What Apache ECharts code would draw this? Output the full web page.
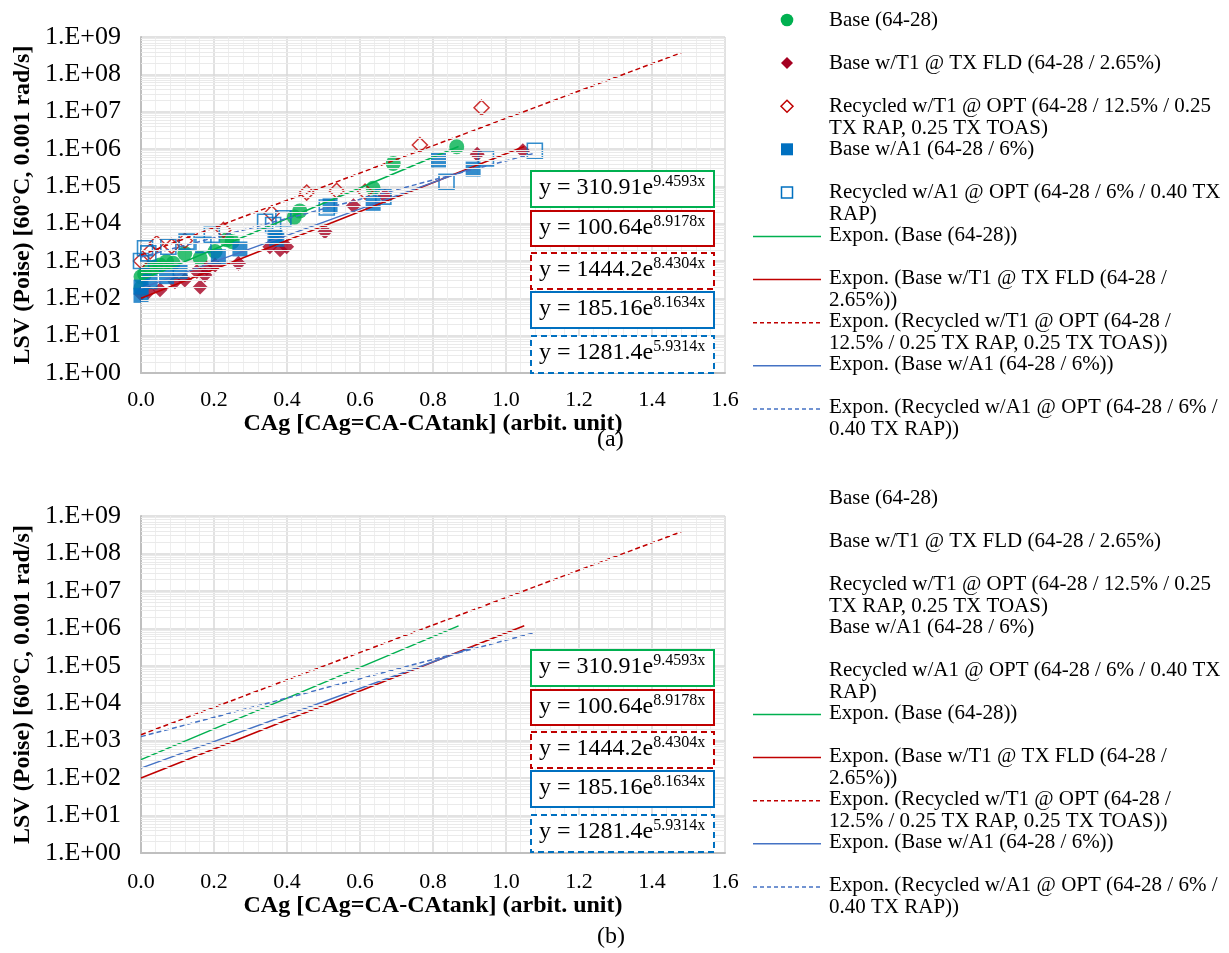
<!DOCTYPE html>
<html><head><meta charset="utf-8">
<script src="https://cdn.jsdelivr.net/npm/echarts@6/dist/echarts.min.js"></script>
<style>html,body{margin:0;padding:0;background:#fff}#c{width:1229px;height:953px}</style>
</head><body><div id="c"></div>
<script>
// ---------------- DATA ----------------
const scatterNames = [
  'Base (64-28)',
  'Base w/T1 @ TX FLD (64-28 / 2.65%)',
  'Recycled w/T1 @ OPT (64-28 / 12.5% / 0.25 TX RAP, 0.25 TX TOAS)',
  'Base w/A1 (64-28 / 6%)',
  'Recycled w/A1 @ OPT (64-28 / 6% / 0.40 TX RAP)'
];
const trendNames = [
  'Expon. (Base (64-28))',
  'Expon. (Base w/T1 @ TX FLD (64-28 / 2.65%))',
  'Expon. (Recycled w/T1 @ OPT (64-28 / 12.5% / 0.25 TX RAP, 0.25 TX TOAS))',
  'Expon. (Base w/A1 (64-28 / 6%))',
  'Expon. (Recycled w/A1 @ OPT (64-28 / 6% / 0.40 TX RAP))'
];
// [CAg, LSV]
const baseData = [[0.0,190],[0.0,380],[0.01,450],[0.025,640],[0.04,700],[0.052,780],[0.07,960],[0.088,870],[0.12,1600],[0.162,1200],[0.203,1800],[0.235,3700],[0.25,3300],[0.42,15000],[0.435,22000],[0.636,89000],[0.691,410000],[0.865,1150000]];
const t1Data = [[0.0,130],[0.02,150],[0.052,170],[0.093,280],[0.12,310],[0.153,520],[0.162,200],[0.175,420],[0.18,640],[0.203,780],[0.267,870],[0.353,2400],[0.381,2000],[0.399,2400],[0.504,6100],[0.582,30000],[0.668,55000],[0.921,720000],[1.046,900000]];
const recT1Data = [[0.0,1000],[0.025,1800],[0.043,3000],[0.084,2500],[0.12,3500],[0.226,6800],[0.358,19000],[0.454,68000],[0.536,76000],[0.614,72000],[0.764,1280000],[0.933,12800000]];
const a1Data = [[0.0,120],[0.0,200],[0.025,280],[0.07,380],[0.107,520],[0.212,1300],[0.271,2100],[0.367,4500],[0.372,3800],[0.518,30000],[0.636,35000],[0.815,510000],[0.91,290000]];
const recA1Data = [[0.0,1000],[0.011,2200],[0.02,1600],[0.075,2400],[0.125,3300],[0.171,2700],[0.194,5000],[0.34,11300],[0.362,9200],[0.39,14000],[0.509,27000],[0.664,53000],[0.837,133000],[0.945,560000],[1.079,900000]];
// trend line end points [CAg, LSV]
const trendBase = [[0,310.91],[0.87,1165000]];
const trendT1 = [[0,100.64],[1.05,1170000]];
const trendRecT1 = [[0,1444.2],[1.48,379000000]];
const trendA1 = [[0,185.16],[0.91,312000]];
const trendRecA1 = [[0,1281.4],[1.08,776000]];
const eqCoef = ['310.91','100.64','1444.2','185.16','1281.4'];
const eqExp = ['9.4593','8.9178','8.4304','8.1634','5.9314'];
const xName = 'CAg [CAg=CA-CAtank] (arbit. unit)';
const yName = 'LSV (Poise) [60°C, 0.001 rad/s]';
const panelLabels = ['(a)','(b)'];

// ---------------- STYLE / LAYOUT ----------------
const FONT = "'Liberation Serif','Times New Roman',serif";
const GREEN = '#00B050', DRED = '#A50021', RED = '#C00000', BLUE = '#0070C0', LBLUE = '#4472C4';
const grids = [{left:141, top:37, width:584, height:336},{left:141, top:516, width:584, height:337}];

const trendStyles = [
  {color:GREEN, dash:null},
  {color:RED, dash:null},
  {color:RED, dash:[5,3]},
  {color:LBLUE, dash:null},
  {color:LBLUE, dash:[5,3]}
];
const boxStyles = [
  {color:GREEN, dash:null},
  {color:RED, dash:null},
  {color:RED, dash:[6,4]},
  {color:BLUE, dash:null},
  {color:BLUE, dash:[6,4]}
];

const minorVals = [];
for (let e = 0; e < 9; e++) for (let k = 2; k <= 9; k++) minorVals.push(k * Math.pow(10, e));

// word wrap helper for legend text (layout only)
const mctx = document.createElement('canvas').getContext('2d');
function wrap(text, font, maxW){
  mctx.font = font;
  const words = text.split(' ');
  const lines = [];
  let cur = '';
  words.forEach(w => {
    const t = cur ? cur + ' ' + w : w;
    if (cur && mctx.measureText(t).width > maxW) { lines.push(cur); cur = w; }
    else cur = t;
  });
  if (cur) lines.push(cur);
  return lines.join('\n');
}

function xAxis(i){
  return {
    type:'value', gridIndex:i, min:0, max:1.6, interval:0.2,
    name:xName, nameLocation:'middle', nameGap:i === 0 ? 33 : 37,
    nameTextStyle:{fontFamily:FONT, fontSize:24, fontWeight:'bold', color:'#000'},
    axisLine:{show:true, lineStyle:{color:'#BFBFBF', width:2}},
    axisTick:{show:false},
    axisLabel:{fontFamily:FONT, fontSize:22, color:'#000', margin:i === 0 ? 16 : 18, formatter:v=>v.toFixed(1)},
    splitLine:{show:true, lineStyle:{color:'#D9D9D9', width:1.5}},
    minorTick:{show:false, splitNumber:5},
    minorSplitLine:{show:true, lineStyle:{color:'#EEEEEE', width:1}}
  };
}
function yAxis(i){
  return {
    type:'log', logBase:10, gridIndex:i, min:1, max:1e9,
    name:yName, nameLocation:'middle', nameGap:106, nameRotate:90,
    nameTextStyle:{fontFamily:FONT, fontSize:24, fontWeight:'bold', color:'#000'},
    axisLine:{show:true, lineStyle:{color:'#BFBFBF', width:2}},
    axisTick:{show:false},
    axisLabel:{fontFamily:FONT, fontSize:26, color:'#000', margin:20,
      formatter:v=>'1.E+' + String(Math.round(Math.log10(v))).padStart(2,'0')},
    splitLine:{show:true, lineStyle:{color:'#D9D9D9', width:1.5}}
  };
}

const series = [];
for (let i = 0; i < 2; i++) {
  series.push({
    type:'scatter', xAxisIndex:i, yAxisIndex:i, data:[], z:-1, silent:true,
    markLine:{silent:true, symbol:'none', animation:false, label:{show:false},
      lineStyle:{color:'#EAEAEA', width:1, type:'solid'},
      data:minorVals.map(v=>({yAxis:v}))}
  });
}
const scatterDefs = [
  {data:baseData, symbol:'circle', size:15, style:{color:GREEN}},
  {data:t1Data, symbol:'diamond', size:15, style:{color:DRED}},
  {data:recT1Data, symbol:'diamond', size:15, style:{color:'rgba(255,255,255,0)', borderColor:RED, borderWidth:1.5}},
  {data:a1Data, symbol:'rect', size:15, style:{color:BLUE}},
  {data:recA1Data, symbol:'rect', size:15, style:{color:'rgba(255,255,255,0)', borderColor:BLUE, borderWidth:1.6}}
];
scatterDefs.forEach((d, k) => series.push({
  name:scatterNames[k], type:'scatter', xAxisIndex:0, yAxisIndex:0,
  data:d.data, symbol:d.symbol, symbolSize:d.size, itemStyle:d.style, z:3
}));
const trendData = [trendBase, trendT1, trendRecT1, trendA1, trendRecA1];
for (let i = 0; i < 2; i++) {
  trendData.forEach((d, k) => series.push({
    name:trendNames[k], type:'line', xAxisIndex:i, yAxisIndex:i, data:d,
    showSymbol:false, symbol:'none', z:4,
    lineStyle:{color:trendStyles[k].color, type:trendStyles[k].dash || 'solid', width:1.5}
  }));
}

// ---------------- GRAPHICS: equation boxes, legends, panel labels ----------------
const graphic = [];
const boxTops = [170, 210, 252, 291, 335];
const boxH = [36, 35, 36, 36, 37];
[0, 479].forEach(off => {
  boxStyles.forEach((b, k) => {
    graphic.push({type:'rect', left:530, top:boxTops[k] + off,
      shape:{x:0, y:0, width:183, height:boxH[k]},
      style:{fill:'#fff', stroke:b.color, lineWidth:2, lineDash:b.dash}, z:10});
    graphic.push({type:'text', left:539, top:boxTops[k] + off + 4, z:11,
      style:{text:'{m|y = ' + eqCoef[k] + 'e}{s|' + eqExp[k] + 'x}', fill:'#000',
        rich:{m:{fontFamily:FONT, fontSize:24, lineHeight:28, fill:'#000'},
              s:{fontFamily:FONT, fontSize:16, lineHeight:16, verticalAlign:'top', fill:'#000'}}}});
  });
});

function legendMarker(k, cx, cy){
  const r = 6;
  if (k === 0) return {type:'circle', shape:{cx, cy, r:6.3}, style:{fill:GREEN}};
  if (k === 1) return {type:'polygon', shape:{points:[[cx,cy-r],[cx+r,cy],[cx,cy+r],[cx-r,cy]]}, style:{fill:DRED}};
  if (k === 2) return {type:'polygon', shape:{points:[[cx,cy-r],[cx+r,cy],[cx,cy+r],[cx-r,cy]]}, style:{fill:'#fff', stroke:RED, lineWidth:1.5}};
  if (k === 3) return {type:'rect', shape:{x:cx-r, y:cy-r, width:2*r, height:2*r}, style:{fill:BLUE}};
  return {type:'rect', shape:{x:cx-r+0.5, y:cy-r+0.5, width:2*r-1, height:2*r-1}, style:{fill:'#fff', stroke:BLUE, lineWidth:1.5}};
}
const legendNames = scatterNames.concat(trendNames);
const LFONT = '21px ' + FONT;
[[9, true], [487, false]].forEach(([top0, markers]) => {
  legendNames.forEach((nm, k) => {
    const y = top0 + k * 43.1;
    graphic.push({type:'text', left:829, top:y, z:5,
      style:{text:wrap(nm, LFONT, 396), fontFamily:FONT, fontSize:21, lineHeight:22, fill:'#000'}});
    const cy = y + 11;
    if (k < 5) {
      if (markers) graphic.push(Object.assign(legendMarker(k, 787, cy), {z:5}));
    } else {
      const st = trendStyles[k - 5];
      graphic.push({type:'line', z:5, shape:{x1:753, y1:cy + 1, x2:821, y2:cy + 1},
        style:{stroke:st.color, lineWidth:1.5, lineDash:st.dash ? [4,3] : null}});
    }
  });
});
graphic.push({type:'text', left:597, top:428, z:5, style:{text:panelLabels[0], fontFamily:FONT, fontSize:24, fill:'#000'}});
graphic.push({type:'text', left:597, top:925, z:5, style:{text:panelLabels[1], fontFamily:FONT, fontSize:24, fill:'#000'}});

const chart = echarts.init(document.getElementById('c'));
chart.setOption({
  animation:false,
  backgroundColor:'#fff',
  grid:grids,
  xAxis:[xAxis(0), xAxis(1)],
  yAxis:[yAxis(0), yAxis(1)],
  series,
  graphic
});
</script></body></html>
